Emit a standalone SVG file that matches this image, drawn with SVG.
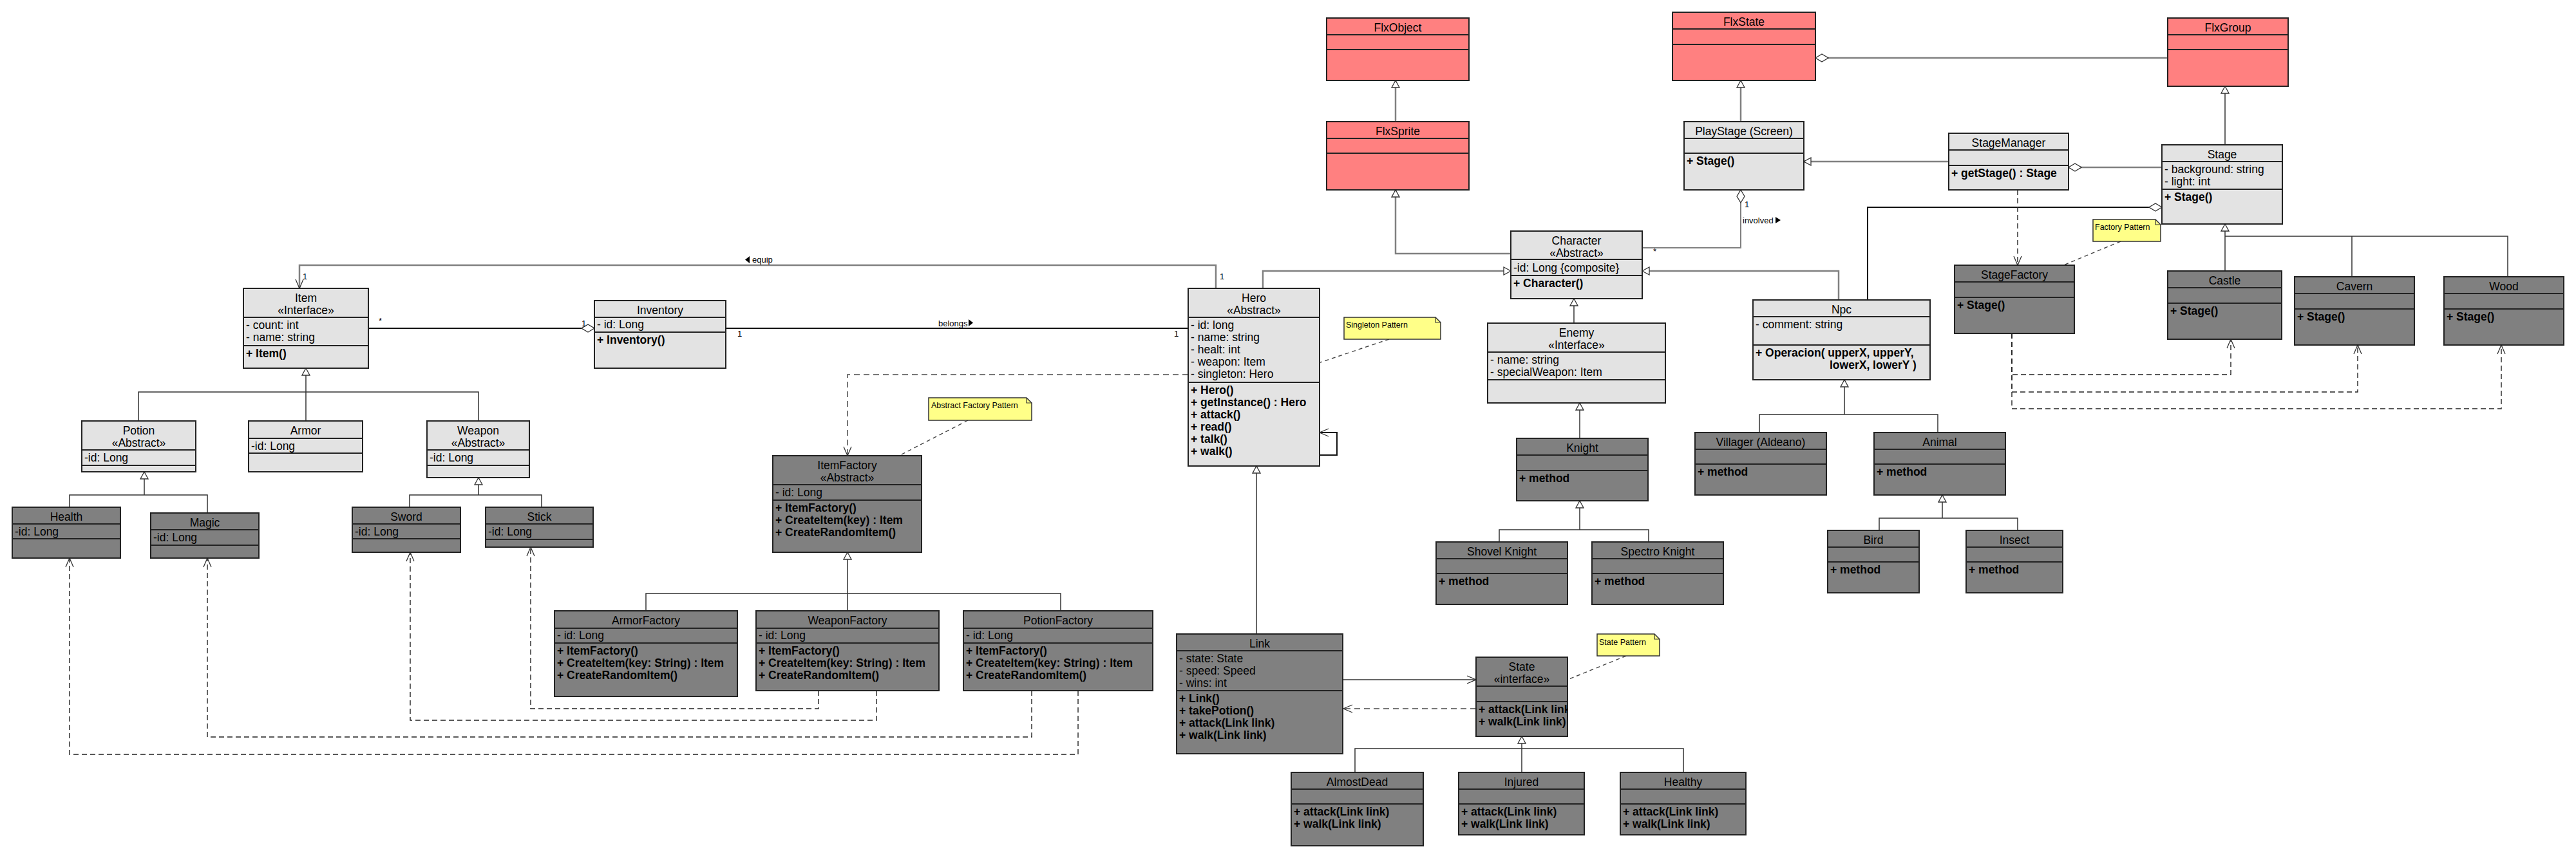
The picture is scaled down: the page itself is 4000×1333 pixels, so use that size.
<svg xmlns="http://www.w3.org/2000/svg" width="4000" height="1333" viewBox="0 0 4000 1333">
<defs>
<style>
.L{fill:#E3E3E3;stroke:#222;stroke-width:2}
.D{fill:#808080;stroke:#222;stroke-width:2}
.R{fill:#FF8080;stroke:#222;stroke-width:2}
.sep{fill:none;stroke:#222;stroke-width:2}
text{font-family:"Liberation Sans",Arial,sans-serif;font-size:17.5px;fill:#000}
.t{text-anchor:middle}
.m{font-weight:bold}
.lbl{font-size:13px}
.nt{font-size:12.5px}
.note{fill:#FFFF88;stroke:#333;stroke-width:1.5}
.fold{fill:none;stroke:#333;stroke-width:1.2}
.c{fill:none;stroke:#333;stroke-width:1.5}
.g{fill:none;stroke:#808080;stroke-width:2.5}
.k{fill:none;stroke:#111;stroke-width:2}
.dg{fill:none;stroke:#777;stroke-width:2;stroke-dasharray:9 6}
.dk{fill:none;stroke:#222;stroke-width:1.4;stroke-dasharray:8 5}
.dn{fill:none;stroke:#444;stroke-width:1.4;stroke-dasharray:6 5}
.tri{fill:#000}
</style>
<marker id="gen" viewBox="0 0 14 14" refX="13" refY="7" markerWidth="14" markerHeight="14" markerUnits="userSpaceOnUse" orient="auto"><path d="M2 1 L13 7 L2 13 Z" fill="#fff" stroke="#333" stroke-width="1.3"/></marker>
<marker id="open" viewBox="0 0 16 14" refX="15" refY="7" markerWidth="16" markerHeight="14" markerUnits="userSpaceOnUse" orient="auto"><path d="M1 1 L15 7 L1 13" fill="none" stroke="#333" stroke-width="1.3"/></marker>
<marker id="dia" viewBox="0 0 22 14" refX="1" refY="7" markerWidth="22" markerHeight="14" markerUnits="userSpaceOnUse" orient="auto"><path d="M1 7 L11 1 L21 7 L11 13 Z" fill="#fff" stroke="#333" stroke-width="1.3"/></marker>
<clipPath id="clipState"><rect x="2292" y="1021" width="142" height="123"/></clipPath>
</defs>
<rect width="4000" height="1333" fill="#fff"/>

<g id="connectors">
<!-- generalizations -->
<path class="c" marker-end="url(#gen)" d="M215 654 V609 H743 V654 M475 654 V572"/>
<path class="c" marker-end="url(#gen)" d="M108 788 V769 H322 V797 M224 769 V733"/>
<path class="c" marker-end="url(#gen)" d="M636 788 V769 H841 V788 M743 769 V742"/>
<path class="c" marker-end="url(#gen)" d="M1003 949 V922 H1647 V949 M1316 949 V858"/>
<path class="g" marker-end="url(#gen)" d="M2167 189 V125"/>
<path class="g" marker-end="url(#gen)" d="M2346 394 H2167 V295"/>
<path class="g" marker-end="url(#gen)" d="M1961 448 V421 H2346"/>
<path class="g" marker-end="url(#gen)" d="M2855 466 V421 H2550"/>
<path class="c" marker-end="url(#gen)" d="M2444 502 V464"/>
<path class="c" marker-end="url(#gen)" d="M2453 681 V626"/>
<path class="c" marker-end="url(#gen)" d="M2328 842 V823 H2560 V842 M2453 823 V778"/>
<path class="g" marker-end="url(#gen)" d="M2703 189 V125"/>
<path class="g" marker-end="url(#gen)" d="M3026 251 H2801"/>
<path class="c" marker-end="url(#gen)" d="M3455 225 V134"/>
<path class="c" marker-end="url(#gen)" d="M3455 421 V367 H3894 V430 M3652 367 V430 M3455 367 V348"/>
<path class="c" marker-end="url(#gen)" d="M2732 672 V644 H3009 V672 M2864 644 V590"/>
<path class="c" marker-end="url(#gen)" d="M2918 824 V805 H3133 V824 M3016 805 V769"/>
<path class="c" marker-end="url(#gen)" d="M1951 985 V724"/>
<path class="c" marker-end="url(#gen)" d="M2104 1200 V1163 H2614 V1200 M2363 1200 V1144"/>
<!-- associations -->
<path class="g" marker-end="url(#open)" d="M1888 448 V412 H465 V448"/>
<path class="k" marker-start="url(#dia)" d="M923 510 H572"/>
<path class="k" d="M1127 510 H1845"/>
<path class="k" marker-end="url(#open)" d="M2049 707 H2076 V672 H2049"/>
<path class="g" marker-start="url(#dia)" d="M2819 90 H3366"/>
<path class="g" marker-start="url(#dia)" d="M3212 260 H3357"/>
<path class="k" marker-start="url(#dia)" d="M3357 322 H2900 V466"/>
<path class="g" style="stroke-width:2" marker-start="url(#dia)" d="M2703 295 V385 H2550"/>
<path class="c" marker-end="url(#open)" d="M2085 1056 H2292"/>
<!-- dependencies -->
<path class="dg" marker-end="url(#open)" d="M1845 582 H1316 V708"/>
<path class="dg" marker-end="url(#open)" d="M2292 1101 H2086"/>
<path class="dk" marker-end="url(#open)" d="M3133 295 V412"/>
<path class="dk" marker-end="url(#open)" d="M3124 518 V582 H3464 V527"/>
<path class="dk" marker-end="url(#open)" d="M3124 518 V609 H3661 V536"/>
<path class="dk" marker-end="url(#open)" d="M3124 518 V635 H3884 V536"/>
<path class="dk" marker-end="url(#open)" d="M1271 1073 V1101 H824 V850"/>
<path class="dk" marker-end="url(#open)" d="M1361 1073 V1119 H637 V858"/>
<path class="dk" marker-end="url(#open)" d="M1602 1073 V1145 H322 V867"/>
<path class="dk" marker-end="url(#open)" d="M1674 1073 V1172 H108 V867"/>
<!-- note links -->
<path class="dn" d="M1503 653 L1396 708"/>
<path class="dn" d="M2157 527 L2050 563"/>
<path class="dn" d="M3293 375 L3204 412"/>
<path class="dn" d="M2525 1019 L2434 1056"/>
<!-- labels -->
<polygon class="tri" points="1157,403.5 1164,398 1164,409"/>
<text class="lbl" x="1168" y="408">equip</text>
<text class="lbl" x="470" y="434">1</text>
<text class="lbl" x="1894" y="434">1</text>
<text class="lbl" x="588" y="503">*</text>
<text class="lbl" x="903" y="507">1</text>
<text class="lbl" x="1145" y="523">1</text>
<text class="lbl" x="1457" y="507">belongs</text>
<polygon class="tri" points="1504,496 1511,501.5 1504,507"/>
<text class="lbl" x="1823" y="523">1</text>
<text class="lbl" x="2709" y="322">1</text>
<text class="lbl" x="2706" y="347">involved</text>
<polygon class="tri" points="2757,337 2765,342 2757,347"/>
<text class="lbl" x="2567" y="395">*</text>
</g>

<g id="notes">
<g id="note-abstract-factory"><polygon class="note" points="1442,618 1594,618 1602,626 1602,653 1442,653"/><path class="fold" d="M1594 618 V626 H1602"/><text class="nt" x="1446" y="634">Abstract Factory Pattern</text></g>
<g id="note-singleton"><polygon class="note" points="2087,493 2229,493 2237,501 2237,527 2087,527"/><path class="fold" d="M2229 493 V501 H2237"/><text class="nt" x="2090" y="509">Singleton Pattern</text></g>
<g id="note-factory"><polygon class="note" points="3250,341 3347,341 3355,349 3355,375 3250,375"/><path class="fold" d="M3347 341 V349 H3355"/><text class="nt" x="3253" y="357">Factory Pattern</text></g>
<g id="note-state"><polygon class="note" points="2480,985 2569,985 2577,993 2577,1019 2480,1019"/><path class="fold" d="M2569 985 V993 H2577"/><text class="nt" x="2483" y="1002">State Pattern</text></g>
</g>

<g id="item"><rect class="L" x="378" y="448" width="194" height="124"/><path class="sep" d="M378 493 H572 M378 537 H572"/>
<text class="t" x="475" y="469">Item</text><text class="t" x="475" y="488">«Interface»</text>
<text x="382" y="511">- count: int</text><text x="382" y="530">- name: string</text>
<text class="m" x="382" y="555">+ Item()</text></g>

<g id="potion"><rect class="L" x="127" y="654" width="177" height="79"/><path class="sep" d="M127 699 H304 M127 723 H304"/>
<text class="t" x="215.5" y="675">Potion</text><text class="t" x="215.5" y="694">«Abstract»</text>
<text x="131" y="717">-id: Long</text></g>

<g id="armor"><rect class="L" x="386" y="654" width="177" height="79"/><path class="sep" d="M386 681 H563 M386 704 H563"/>
<text class="t" x="474.5" y="675">Armor</text><text x="390" y="699">-id: Long</text></g>

<g id="weapon"><rect class="L" x="663" y="654" width="159" height="88"/><path class="sep" d="M663 699 H822 M663 723 H822"/>
<text class="t" x="742.5" y="675">Weapon</text><text class="t" x="742.5" y="694">«Abstract»</text>
<text x="667" y="717">-id: Long</text></g>

<g id="health"><rect class="D" x="19" y="788" width="168" height="79"/><path class="sep" d="M19 814 H187 M19 837 H187"/>
<text class="t" x="103" y="809">Health</text><text x="23" y="832">-id: Long</text></g>

<g id="magic"><rect class="D" x="234" y="797" width="168" height="70"/><path class="sep" d="M234 823 H402 M234 847 H402"/>
<text class="t" x="318" y="818">Magic</text><text x="238" y="841">-id: Long</text></g>

<g id="sword"><rect class="D" x="547" y="788" width="168" height="70"/><path class="sep" d="M547 814 H715 M547 837 H715"/>
<text class="t" x="631" y="809">Sword</text><text x="551" y="832">-id: Long</text></g>

<g id="stick"><rect class="D" x="754" y="788" width="167" height="62"/><path class="sep" d="M754 814 H921 M754 838 H921"/>
<text class="t" x="837.5" y="809">Stick</text><text x="758" y="832">-id: Long</text></g>

<g id="inventory"><rect class="L" x="923" y="467" width="204" height="105"/><path class="sep" d="M923 493 H1127 M923 516 H1127"/>
<text class="t" x="1025" y="488">Inventory</text><text x="927" y="510">- id: Long</text>
<text class="m" x="927" y="534">+ Inventory()</text></g>

<g id="hero"><rect class="L" x="1845" y="448" width="204" height="276"/><path class="sep" d="M1845 493 H2049 M1845 594 H2049"/>
<text class="t" x="1947" y="469">Hero</text><text class="t" x="1947" y="488">«Abstract»</text>
<text x="1849" y="511">- id: long</text><text x="1849" y="530">- name: string</text><text x="1849" y="549">- healt: int</text><text x="1849" y="568">- weapon: Item</text><text x="1849" y="587">- singleton: Hero</text>
<text class="m" x="1849" y="612">+ Hero()</text><text class="m" x="1849" y="631">+ getInstance() : Hero</text><text class="m" x="1849" y="650">+ attack()</text><text class="m" x="1849" y="669">+ read()</text><text class="m" x="1849" y="688">+ talk()</text><text class="m" x="1849" y="707">+ walk()</text></g>

<g id="itemfactory"><rect class="D" x="1200" y="708" width="231" height="150"/><path class="sep" d="M1200 753 H1431 M1200 777 H1431"/>
<text class="t" x="1315.5" y="729">ItemFactory</text><text class="t" x="1315.5" y="748">«Abstract»</text>
<text x="1204" y="771">- id: Long</text>
<text class="m" x="1204" y="795">+ ItemFactory()</text><text class="m" x="1204" y="814">+ CreateItem(key) : Item</text><text class="m" x="1204" y="833">+ CreateRandomItem()</text></g>

<g id="armorfactory"><rect class="D" x="861" y="949" width="284" height="133"/><path class="sep" d="M861 976 H1145 M861 999 H1145"/>
<text class="t" x="1003" y="970">ArmorFactory</text><text x="865" y="993">- id: Long</text>
<text class="m" x="865" y="1017">+ ItemFactory()</text><text class="m" x="865" y="1036">+ CreateItem(key: String) : Item</text><text class="m" x="865" y="1055">+ CreateRandomItem()</text></g>

<g id="weaponfactory"><rect class="D" x="1174" y="949" width="284" height="124"/><path class="sep" d="M1174 976 H1458 M1174 999 H1458"/>
<text class="t" x="1316" y="970">WeaponFactory</text><text x="1178" y="993">- id: Long</text>
<text class="m" x="1178" y="1017">+ ItemFactory()</text><text class="m" x="1178" y="1036">+ CreateItem(key: String) : Item</text><text class="m" x="1178" y="1055">+ CreateRandomItem()</text></g>

<g id="potionfactory"><rect class="D" x="1496" y="949" width="294" height="124"/><path class="sep" d="M1496 976 H1790 M1496 999 H1790"/>
<text class="t" x="1643" y="970">PotionFactory</text><text x="1500" y="993">- id: Long</text>
<text class="m" x="1500" y="1017">+ ItemFactory()</text><text class="m" x="1500" y="1036">+ CreateItem(key: String) : Item</text><text class="m" x="1500" y="1055">+ CreateRandomItem()</text></g>

<g id="link"><rect class="D" x="1827" y="985" width="258" height="186"/><path class="sep" d="M1827 1011 H2085 M1827 1073 H2085"/>
<text class="t" x="1956" y="1006">Link</text>
<text x="1831" y="1029">- state: State</text><text x="1831" y="1048">- speed: Speed</text><text x="1831" y="1067">- wins: int</text>
<text class="m" x="1831" y="1091">+ Link()</text><text class="m" x="1831" y="1110">+ takePotion()</text><text class="m" x="1831" y="1129">+ attack(Link link)</text><text class="m" x="1831" y="1148">+ walk(Link link)</text></g>

<g id="state"><rect class="D" x="2292" y="1021" width="142" height="123"/><path class="sep" d="M2292 1066 H2434 M2292 1090 H2434"/>
<text class="t" x="2363" y="1042">State</text><text class="t" x="2363" y="1061">«interface»</text>
<g clip-path="url(#clipState)"><text class="m" x="2296" y="1108">+ attack(Link link)</text><text class="m" x="2296" y="1127">+ walk(Link link)</text></g></g>

<g id="almostdead"><rect class="D" x="2005" y="1200" width="205" height="114"/><path class="sep" d="M2005 1226 H2210 M2005 1249 H2210"/>
<text class="t" x="2107.5" y="1221">AlmostDead</text>
<text class="m" x="2009" y="1267">+ attack(Link link)</text><text class="m" x="2009" y="1286">+ walk(Link link)</text></g>

<g id="injured"><rect class="D" x="2265" y="1200" width="195" height="97"/><path class="sep" d="M2265 1226 H2460 M2265 1249 H2460"/>
<text class="t" x="2362.5" y="1221">Injured</text>
<text class="m" x="2269" y="1267">+ attack(Link link)</text><text class="m" x="2269" y="1286">+ walk(Link link)</text></g>

<g id="healthy"><rect class="D" x="2516" y="1200" width="195" height="97"/><path class="sep" d="M2516 1226 H2711 M2516 1249 H2711"/>
<text class="t" x="2613.5" y="1221">Healthy</text>
<text class="m" x="2520" y="1267">+ attack(Link link)</text><text class="m" x="2520" y="1286">+ walk(Link link)</text></g>

<g id="flxobject"><rect class="R" x="2060" y="28" width="221" height="97"/><path class="sep" d="M2060 54 H2281 M2060 77 H2281"/>
<text class="t" x="2170.5" y="49">FlxObject</text></g>

<g id="flxsprite"><rect class="R" x="2060" y="189" width="221" height="106"/><path class="sep" d="M2060 215 H2281 M2060 238 H2281"/>
<text class="t" x="2170.5" y="210">FlxSprite</text></g>

<g id="flxstate"><rect class="R" x="2597" y="19" width="222" height="106"/><path class="sep" d="M2597 45 H2819 M2597 69 H2819"/>
<text class="t" x="2708" y="40">FlxState</text></g>

<g id="flxgroup"><rect class="R" x="3366" y="28" width="187" height="106"/><path class="sep" d="M3366 54 H3553 M3366 77 H3553"/>
<text class="t" x="3459.5" y="49">FlxGroup</text></g>

<g id="playstage"><rect class="L" x="2615" y="189" width="186" height="106"/><path class="sep" d="M2615 215 H2801 M2615 238 H2801"/>
<text class="t" x="2708" y="210">PlayStage (Screen)</text><text class="m" x="2619" y="256">+ Stage()</text></g>

<g id="character"><rect class="L" x="2346" y="359" width="204" height="105"/><path class="sep" d="M2346 403 H2550 M2346 428 H2550"/>
<text class="t" x="2448" y="380">Character</text><text class="t" x="2448" y="399">«Abstract»</text>
<text x="2350" y="422">-id: Long {composite}</text><text class="m" x="2350" y="446">+ Character()</text></g>

<g id="enemy"><rect class="L" x="2310" y="502" width="276" height="124"/><path class="sep" d="M2310 547 H2586 M2310 590 H2586"/>
<text class="t" x="2448" y="523">Enemy</text><text class="t" x="2448" y="542">«Interface»</text>
<text x="2314" y="565">- name: string</text><text x="2314" y="584">- specialWeapon: Item</text></g>

<g id="knight"><rect class="D" x="2355" y="681" width="204" height="97"/><path class="sep" d="M2355 707 H2559 M2355 731 H2559"/>
<text class="t" x="2457" y="702">Knight</text><text class="m" x="2359" y="749">+ method</text></g>

<g id="shovelknight"><rect class="D" x="2230" y="842" width="204" height="97"/><path class="sep" d="M2230 868 H2434 M2230 891 H2434"/>
<text class="t" x="2332" y="863">Shovel Knight</text><text class="m" x="2234" y="909">+ method</text></g>

<g id="spectroknight"><rect class="D" x="2472" y="842" width="204" height="97"/><path class="sep" d="M2472 868 H2676 M2472 891 H2676"/>
<text class="t" x="2574" y="863">Spectro Knight</text><text class="m" x="2476" y="909">+ method</text></g>

<g id="stagemanager"><rect class="L" x="3026" y="207" width="186" height="88"/><path class="sep" d="M3026 233 H3212 M3026 257 H3212"/>
<text class="t" x="3119" y="228">StageManager</text><text class="m" x="3030" y="275">+ getStage() : Stage</text></g>

<g id="stage"><rect class="L" x="3357" y="225" width="187" height="123"/><path class="sep" d="M3357 251 H3544 M3357 294 H3544"/>
<text class="t" x="3450.5" y="246">Stage</text>
<text x="3361" y="269">- background: string</text><text x="3361" y="288">- light: int</text>
<text class="m" x="3361" y="312">+ Stage()</text></g>

<g id="npc"><rect class="L" x="2722" y="466" width="275" height="124"/><path class="sep" d="M2722 492 H2997 M2722 536 H2997"/>
<text class="t" x="2859.5" y="487">Npc</text><text x="2726" y="510">- comment: string</text>
<text class="m" x="2726" y="554">+ Operacion( upperX, upperY,</text><text class="m" x="2841" y="573">lowerX, lowerY )</text></g>

<g id="villager"><rect class="D" x="2632" y="672" width="204" height="97"/><path class="sep" d="M2632 698 H2836 M2632 721 H2836"/>
<text class="t" x="2734" y="693">Villager (Aldeano)</text><text class="m" x="2636" y="739">+ method</text></g>

<g id="animal"><rect class="D" x="2910" y="672" width="204" height="97"/><path class="sep" d="M2910 698 H3114 M2910 721 H3114"/>
<text class="t" x="3012" y="693">Animal</text><text class="m" x="2914" y="739">+ method</text></g>

<g id="bird"><rect class="D" x="2838" y="824" width="142" height="97"/><path class="sep" d="M2838 850 H2980 M2838 873 H2980"/>
<text class="t" x="2909" y="845">Bird</text><text class="m" x="2842" y="891">+ method</text></g>

<g id="insect"><rect class="D" x="3053" y="824" width="150" height="97"/><path class="sep" d="M3053 850 H3203 M3053 873 H3203"/>
<text class="t" x="3128" y="845">Insect</text><text class="m" x="3057" y="891">+ method</text></g>

<g id="stagefactory"><rect class="D" x="3035" y="412" width="186" height="106"/><path class="sep" d="M3035 438 H3221 M3035 462 H3221"/>
<text class="t" x="3128" y="433">StageFactory</text><text class="m" x="3039" y="480">+ Stage()</text></g>

<g id="castle"><rect class="D" x="3366" y="421" width="177" height="106"/><path class="sep" d="M3366 447 H3543 M3366 471 H3543"/>
<text class="t" x="3454.5" y="442">Castle</text><text class="m" x="3370" y="489">+ Stage()</text></g>

<g id="cavern"><rect class="D" x="3563" y="430" width="186" height="106"/><path class="sep" d="M3563 456 H3749 M3563 480 H3749"/>
<text class="t" x="3656" y="451">Cavern</text><text class="m" x="3567" y="498">+ Stage()</text></g>

<g id="wood"><rect class="D" x="3795" y="430" width="186" height="106"/><path class="sep" d="M3795 456 H3981 M3795 480 H3981"/>
<text class="t" x="3888" y="451">Wood</text><text class="m" x="3799" y="498">+ Stage()</text></g>
</svg>
